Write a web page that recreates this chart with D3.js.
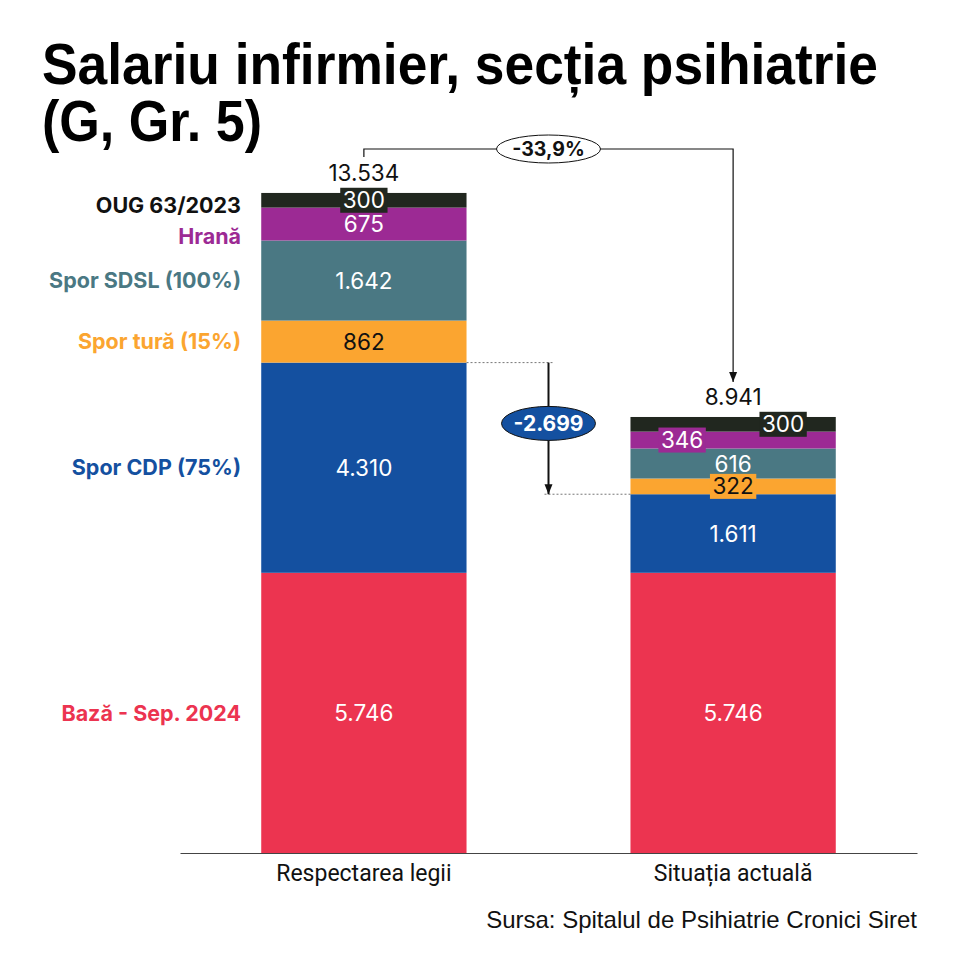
<!DOCTYPE html>
<html>
<head>
<meta charset="utf-8">
<script src="https://cdn.jsdelivr.net/npm/d3@7"></script>
<style>
  body { margin: 0; background: #fff; }
</style>
</head>
<body>
<svg id="chart" width="960" height="960"></svg>
<script>
const categories = ["Respectarea legii", "Situația actuală"];
const seriesNames = ["Bază - Sep. 2024", "Spor CDP (75%)", "Spor tură (15%)", "Spor SDSL (100%)", "Hrană", "OUG 63/2023"];
const legeValues = [5746, 4310, 862, 1642, 675, 300];
const actualaValues = [5746, 1611, 322, 616, 346, 300];
const totals = [13534, 8941];

const seriesColors = ["#ec3450", "#1450a0", "#fba530", "#4a7883", "#9c2a94", "#21271f"];
const labelColors = ["#ec3450", "#1450a0", "#fba530", "#4a7883", "#9c2a94", "#111111"];

const svg = d3.select("#chart");
const loc = d3.formatLocale({ decimal: ",", thousands: ".", grouping: [3], currency: ["", ""], minus: "-" });
const num = loc.format(",d");
const pct = loc.format(".1%");

const rows = categories.map((c, i) => {
  const r = { category: c };
  const vals = [legeValues, actualaValues][i];
  seriesNames.forEach((s, j) => r[s] = vals[j]);
  return r;
});
const stacked = d3.stack().keys(seriesNames)(rows);

const x = d3.scaleBand()
  .domain(categories)
  .range([180, 917])
  .paddingInner(0.444)
  .paddingOuter(0.22);

const y = d3.scaleLinear()
  .domain([0, d3.max(totals)])
  .range([853, 193]);

const color = d3.scaleOrdinal().domain(seriesNames).range(seriesColors);
const labelColor = d3.scaleOrdinal().domain(seriesNames).range(labelColors);

// bars
const layers = svg.append("g")
  .selectAll("g")
  .data(stacked)
  .join("g")
  .attr("fill", d => color(d.key));

layers.selectAll("rect")
  .data(d => d)
  .join("rect")
  .attr("x", d => x(d.data.category))
  .attr("width", x.bandwidth())
  .attr("y", d => y(d[1]))
  .attr("height", d => y(d[0]) - y(d[1]));

// axis
const axis = svg.append("g")
  .attr("transform", `translate(0,${y(0)})`)
  .call(d3.axisBottom(x).tickSize(0).tickSizeOuter(0).tickPadding(12));
axis.select(".domain").attr("stroke", "#444");
axis.selectAll("text")
  .attr("font-family", "Roboto, sans-serif")
  .attr("font-size", 23)
  .attr("fill", "#111");

// value labels in segments
const valueNudge = { "Situația actuală|OUG 63/2023": 50, "Situația actuală|Hrană": -51 };
const labelsG = svg.append("g");
stacked.forEach(layer => {
  layer.forEach(d => {
    const cat = d.data.category;
    const v = d.data[layer.key];
    const h = y(d[0]) - y(d[1]);
    const cx = x(cat) + x.bandwidth() / 2 + (valueNudge[cat + "|" + layer.key] || 0);
    const cy = (y(d[0]) + y(d[1])) / 2;
    const g = labelsG.append("g");
    const t = g.append("text")
      .attr("x", cx)
      .attr("y", cy)
      .attr("dy", "0.36em")
      .attr("text-anchor", "middle")
      .attr("font-family", "Inter, sans-serif")
      .attr("font-size", 22.5)
      .attr("fill", layer.key === "Spor tură (15%)" ? "#111" : "#fff")
      .text(num(v));
    if (h < 26) {
      const w = t.node().getComputedTextLength() + 5;
      g.insert("rect", "text")
        .attr("x", cx - w / 2)
        .attr("y", cy - 12.5)
        .attr("width", w)
        .attr("height", 25)
        .attr("fill", color(layer.key));
    }
  });
});

// series labels on the left
const nameNudge = { "OUG 63/2023": 5, "Hrană": 12 };
svg.append("g")
  .selectAll("text")
  .data(stacked)
  .join("text")
  .attr("x", 241)
  .attr("y", d => (y(d[0][0]) + y(d[0][1])) / 2 + (nameNudge[d.key] || 0))
  .attr("dy", "0.36em")
  .attr("text-anchor", "end")
  .attr("font-family", "Inter, sans-serif")
  .attr("font-weight", 700)
  .attr("font-size", 21.5)
  .attr("fill", d => labelColor(d.key))
  .text(d => d.key);

// totals
svg.append("g")
  .selectAll("text")
  .data(categories)
  .join("text")
  .attr("x", d => x(d) + x.bandwidth() / 2)
  .attr("y", (d, i) => y(totals[i]) - 12)
  .attr("text-anchor", "middle")
  .attr("font-family", "Inter, sans-serif")
  .attr("font-size", 22.5)
  .attr("fill", "#111")
  .text((d, i) => num(totals[i]));

// arrow marker
svg.append("defs").append("marker")
  .attr("id", "arrow")
  .attr("markerUnits", "userSpaceOnUse")
  .attr("viewBox", "0 0 10 10")
  .attr("refX", 10).attr("refY", 5)
  .attr("markerWidth", 10).attr("markerHeight", 10)
  .attr("orient", "auto")
  .append("path")
  .attr("d", "M0,1 L10,5 L0,9 Z")
  .attr("fill", "#111");

// top bracket: total change
const cx0 = x(categories[0]) + x.bandwidth() / 2;
const cx1 = x(categories[1]) + x.bandwidth() / 2;
const midX = (cx0 + cx1) / 2;
const bracketY = 149;
svg.append("path")
  .attr("d", `M${cx0},${y(totals[0]) - 36} V${bracketY} H${cx1} V${y(totals[1]) - 35}`)
  .attr("fill", "none")
  .attr("stroke", "#111")
  .attr("stroke-width", 1.2)
  .attr("marker-end", "url(#arrow)");
svg.append("ellipse")
  .attr("cx", midX).attr("cy", bracketY)
  .attr("rx", 52).attr("ry", 14)
  .attr("fill", "#fff")
  .attr("stroke", "#111");
svg.append("text")
  .attr("x", midX).attr("y", bracketY)
  .attr("dy", "0.36em")
  .attr("text-anchor", "middle")
  .attr("font-family", "Inter, sans-serif")
  .attr("font-weight", 700)
  .attr("font-size", 19.5)
  .attr("fill", "#111")
  .text(pct(totals[1] / totals[0] - 1));

// CDP difference arrow
const cdp = stacked[1];
const yA = y(cdp[0][1]);
const yB = y(cdp[1][1]);
svg.append("line")
  .attr("x1", x(categories[0]) + x.bandwidth()).attr("x2", midX + 4)
  .attr("y1", yA).attr("y2", yA)
  .attr("stroke", "#777").attr("stroke-dasharray", "2,2");
svg.append("line")
  .attr("x1", midX - 4).attr("x2", x(categories[1]))
  .attr("y1", yB).attr("y2", yB)
  .attr("stroke", "#777").attr("stroke-dasharray", "2,2");
svg.append("line")
  .attr("x1", midX).attr("x2", midX)
  .attr("y1", yA).attr("y2", yB)
  .attr("stroke", "#111")
  .attr("stroke-width", 2)
  .attr("marker-end", "url(#arrow)");
const diffY = (yA + yB) / 2 - 5;
svg.append("ellipse")
  .attr("cx", midX).attr("cy", diffY)
  .attr("rx", 47).attr("ry", 17)
  .attr("fill", "#1450a0")
  .attr("stroke", "#111");
svg.append("text")
  .attr("x", midX).attr("y", diffY)
  .attr("dy", "0.36em")
  .attr("text-anchor", "middle")
  .attr("font-family", "Inter, sans-serif")
  .attr("font-weight", 700)
  .attr("font-size", 21)
  .attr("fill", "#fff")
  .text(num(actualaValues[1] - legeValues[1]));

// title
svg.append("text")
  .attr("x", 42).attr("y", 84)
  .attr("font-family", "Liberation Sans, Arial, sans-serif")
  .attr("font-weight", 700)
  .attr("font-size", 57)
  .attr("textLength", 836)
  .attr("lengthAdjust", "spacingAndGlyphs")
  .attr("fill", "#000")
  .text("Salariu infirmier, secția psihiatrie");
svg.append("text")
  .attr("x", 42).attr("y", 141)
  .attr("font-family", "Liberation Sans, Arial, sans-serif")
  .attr("font-weight", 700)
  .attr("font-size", 57)
  .attr("textLength", 220)
  .attr("lengthAdjust", "spacingAndGlyphs")
  .attr("fill", "#000")
  .text("(G, Gr. 5)");

// source
svg.append("text")
  .attr("x", 917).attr("y", 928)
  .attr("text-anchor", "end")
  .attr("font-family", "Liberation Sans, Arial, sans-serif")
  .attr("font-size", 24)
  .attr("fill", "#111")
  .text("Sursa: Spitalul de Psihiatrie Cronici Siret");
</script>
</body>
</html>
